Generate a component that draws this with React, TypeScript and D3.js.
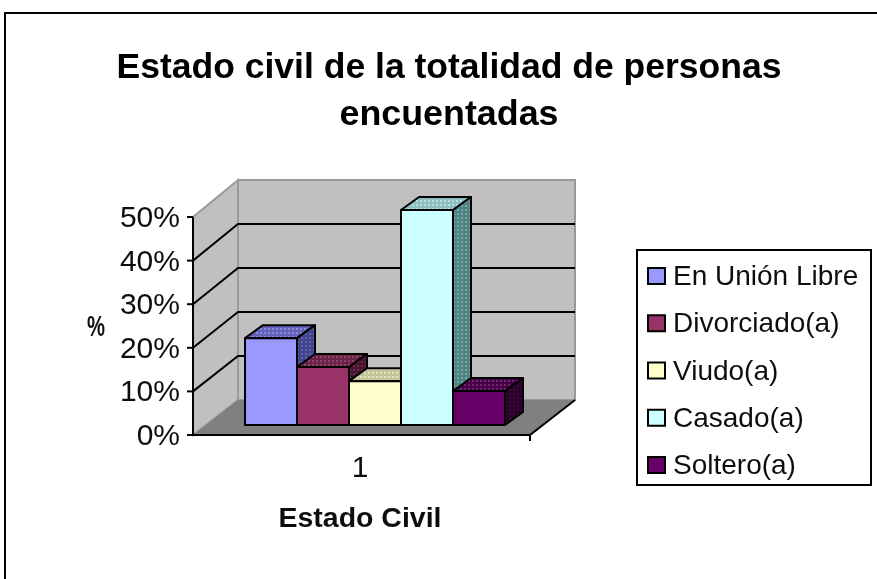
import React from "react";
import * as d3 from "d3";

const titleLines = ["Estado civil de la totalidad de personas", "encuentadas"];
const categories = ["En Unión Libre", "Divorciado(a)", "Viudo(a)", "Casado(a)", "Soltero(a)"];
const values = [20.2, 13.5, 10.2, 50, 7.9];
const colors = ["#9999ff", "#993366", "#ffffcc", "#ccffff", "#660066"];
const topBase = ["#6262b8", "#6b2247", "#c4c49a", "#8fbfbf", "#470047"];
const topDot = ["#8c8cd8", "#8f4468", "#e2e2bc", "#b4e0e0", "#6e2a6e"];
const sideBase = ["#3f4490", "#47122e", "#8f8f6c", "#4f8484", "#2b002b"];
const sideDot = ["#62669f", "#6a2a4c", "#aaaa88", "#78a4a4", "#3a103a"];
const ticks = [0, 10, 20, 30, 40, 50];
const xLabel = "1";
const xTitle = "Estado Civil";
const yTitle = "%";

const W = 877, H = 579;
const yFront = d3.scaleLinear().domain([0, 50]).range([435, 217]);
const yBack = d3.scaleLinear().domain([0, 50]).range([400, 180]);
const yBar = d3.scaleLinear().domain([0, 50]).range([425, 210]);
const xBar = d3.scaleBand<number>().domain(d3.range(categories.length)).range([245, 505]);
const DX = 45, DY = -35, BDX = 18, BDY = -13;
const LX0 = 193, LX1 = 530;
const line = d3.line();
const poly = (p: [number, number][]) => line(p)! + "Z";
const legendY = d3.scalePoint<number>().domain(d3.range(categories.length)).range([276, 465]);

export default function App() {
  const font = "'Liberation Sans', Arial, sans-serif";
  return (
    <svg width={W} height={H} style={{ position: "absolute", left: 0, top: 0, background: "#fff" }} fontFamily={font}>
      <defs>
        <filter id="soft" x="0" y="0" width="100%" height="100%">
          <feGaussianBlur stdDeviation={0.45} />
        </filter>
        {colors.map((_, i) => (
          <React.Fragment key={i}>
            <pattern id={`t${i}`} width={4} height={4} patternUnits="userSpaceOnUse">
              <rect width={4} height={4} fill={topBase[i]} />
              <rect x={0} y={0} width={2} height={2} fill={topDot[i]} />
            </pattern>
            <pattern id={`s${i}`} width={4} height={4} patternUnits="userSpaceOnUse">
              <rect width={4} height={4} fill={sideBase[i]} />
              <rect x={1} y={1} width={2} height={2} fill={sideDot[i]} />
            </pattern>
          </React.Fragment>
        ))}
      </defs>
      <g filter="url(#soft)">
        <rect width={W} height={H} fill="#fff" />
        <path d={`M5,${H}V13H${W}`} fill="none" stroke="#000" strokeWidth={2} />
        <g fontWeight="bold" fontSize={35} textAnchor="middle" fill="#000">
          {titleLines.map((t, i) => (
            <text key={t} x={449} y={78 + i * 47} textLength={i === 0 ? 665 : 219} lengthAdjust="spacingAndGlyphs">{t}</text>
          ))}
        </g>
        {/* walls */}
        <path d={poly([[LX0, 217], [LX0 + DX, 180], [LX0 + DX, 400], [LX0, 435]])} fill="#c0c0c0" stroke="#9a9a9a" strokeWidth={2} />
        <rect x={LX0 + DX} y={180} width={LX1 - LX0} height={220} fill="#c0c0c0" stroke="#9a9a9a" strokeWidth={2} />
        <path d={poly([[LX0, 435], [LX0 + DX, 400], [LX1 + DX, 400], [LX1, 435]])} fill="#808080" />
        {ticks.filter(t => t > 0 && t < 50).map(t => (
          <path key={t} d={`M${LX0},${yFront(t)}L${LX0 + DX},${yBack(t)}H${LX1 + DX}`} fill="none" stroke="#000" strokeWidth={2} />
        ))}
        {/* axes */}
        <path d={`M${LX0},${yFront(50)}V${yFront(0)}H${LX1}L${LX1 + DX},400`} fill="none" stroke="#000" strokeWidth={2} />
        <path d={`M${LX1},435v6`} stroke="#000" strokeWidth={2} />
        {ticks.map(t => (
          <g key={t}>
            <path d={`M${LX0 - 6},${yFront(t)}H${LX0}`} stroke="#000" strokeWidth={2} />
            <text x={180} y={yFront(t) + 10} textAnchor="end" fontSize={30} fill="#111">{t}%</text>
          </g>
        ))}
        {/* bars */}
        {values.map((v, i) => {
          const x0 = xBar(i)!, x1 = x0 + xBar.bandwidth(), y1 = yBar(v), y0 = yBar(0);
          return (
            <g key={categories[i]} stroke="#000" strokeWidth={2} strokeLinejoin="round">
              <path d={poly([[x0, y1], [x0 + BDX, y1 + BDY], [x1 + BDX, y1 + BDY], [x1, y1]])} fill={`url(#t${i})`} />
              <path d={poly([[x1, y1], [x1 + BDX, y1 + BDY], [x1 + BDX, y0 + BDY], [x1, y0]])} fill={`url(#s${i})`} />
              <rect x={x0} y={y1} width={x1 - x0} height={y0 - y1} fill={colors[i]} />
            </g>
          );
        })}
        <text x={360} y={477} textAnchor="middle" fontSize={30} fill="#111">{xLabel}</text>
        <text x={360} y={527} textAnchor="middle" fontSize={28} fontWeight="bold" fill="#111" textLength={163} lengthAdjust="spacingAndGlyphs">{xTitle}</text>
        <text x={96} y={336} textAnchor="middle" fontSize={29} fontWeight="bold" fill="#111" textLength={18} lengthAdjust="spacingAndGlyphs">{yTitle}</text>
        {/* legend */}
        <rect x={637} y={250} width={234} height={235} fill="#fff" stroke="#000" strokeWidth={2} />
        {categories.map((c, i) => (
          <g key={c}>
            <rect x={648} y={legendY(i)! - 8} width={17} height={16} fill={colors[i]} stroke="#000" strokeWidth={2} />
            <text x={673} y={legendY(i)! + 9} fontSize={28} fill="#111">{c}</text>
          </g>
        ))}
      </g>
    </svg>
  );
}
